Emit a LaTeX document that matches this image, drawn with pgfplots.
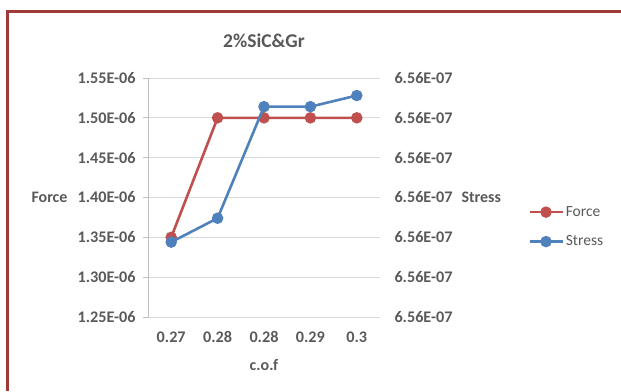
\documentclass[border=0pt]{standalone}
\usepackage{pgfplots}
\pgfplotsset{compat=1.18}
\usepackage{fontspec}
\setmainfont{Carlito}[Numbers=Lining]
\definecolor{frame}{HTML}{9E3A38}
\definecolor{txt}{HTML}{595959}
\definecolor{grd}{HTML}{D9D9D9}
\definecolor{axl}{HTML}{BFBFBF}
\definecolor{cred}{HTML}{C0504D}
\definecolor{cblue}{HTML}{4F81BD}
\begin{document}
\begin{tikzpicture}[x=1pt,y=1pt]
\useasboundingbox (0,0) rectangle (621,391);
\draw[frame, line width=3pt] (7.5,0) -- (7.5,379.5) -- (621,379.5);
\node[text=txt, font=\fontsize{19.5}{22}\selectfont\bfseries] at (264,350) {2\%SiC\&Gr};
\begin{axis}[
  at={(148pt,74pt)}, anchor=south west,
  width=232pt, height=239pt, scale only axis,
  xmin=-0.5, xmax=4.5,
  ymin=1.25e-6, ymax=1.55e-6,
  scaled y ticks=false,
  xtick={0,1,2,3,4},
  xticklabels={0.27,0.28,0.28,0.29,0.3},
  ytick={1.25e-6,1.30e-6,1.35e-6,1.40e-6,1.45e-6,1.50e-6,1.55e-6},
  yticklabels={1.25E-06,1.30E-06,1.35E-06,1.40E-06,1.45E-06,1.50E-06,1.55E-06},
  axis y line*=left, axis x line*=bottom,
  y axis line style={draw=axl, line width=0.8pt, -},
  x axis line style={draw=grd, line width=0.8pt, -},
  xtick style={draw=none},
  ytick style={draw=axl, line width=0.8pt},
  tick align=outside, major tick length=5pt,
  ymajorgrids, grid style={draw=grd, line width=0.8pt},
  ticklabel style={text=txt, font=\fontsize{16.2}{18}\selectfont\bfseries},
  yticklabel style={xshift=-4pt},
  xticklabel style={text height=11pt, text depth=0pt, yshift=-6pt},
  xlabel={c.o.f}, ylabel={Force},
  label style={text=txt, font=\fontsize{16}{18}\selectfont\bfseries},
  xlabel style={at={(axis description cs:0.5,0)}, anchor=center, yshift=-48pt},
  ylabel style={rotate=-90, anchor=east, at={(axis description cs:0,0.5)}, xshift=-77pt},
  clip=false,
]
\addplot[cred, line width=2.6pt, mark=*, mark size=4.4pt] coordinates {
(0,1.35e-6) (1,1.50e-6) (2,1.50e-6) (3,1.50e-6) (4,1.50e-6)};
\end{axis}
\begin{axis}[
  at={(148pt,74pt)}, anchor=south west,
  width=232pt, height=239pt, scale only axis,
  xmin=-0.5, xmax=4.5,
  ymin=1.25, ymax=1.55,
  axis x line=none,
  axis y line*=right,
  y axis line style={draw=none},
  ytick={1.25,1.30,1.35,1.40,1.45,1.50,1.55},
  yticklabels={6.56E-07,6.56E-07,6.56E-07,6.56E-07,6.56E-07,6.56E-07,6.56E-07},
  ytick style={draw=none},
  ticklabel style={text=txt, font=\fontsize{16.2}{18}\selectfont\bfseries},
  yticklabel style={xshift=11pt},
  ylabel={Stress},
  ylabel style={rotate=-90, anchor=west, at={(axis description cs:1,0.5)}, xshift=78pt, text=txt, font=\fontsize{16}{18}\selectfont\bfseries},
  legend style={at={(1.638,0.377)}, anchor=west, draw=none, fill=none,
    font=\fontsize{15.5}{17}\selectfont, text=txt, row sep=14pt,
    inner sep=0pt, cells={anchor=west}},
  legend image code/.code={
    \draw[#1, mark repeat=2, mark phase=2] plot coordinates {(0pt,0pt) (16.5pt,0pt) (33pt,0pt)};},
  clip=false,
]
\addlegendimage{cred, line width=2.6pt, mark=*, mark size=4.4pt}
\addlegendentry{Force}
\addplot[cblue, line width=2.6pt, mark=*, mark size=4.4pt] coordinates {
(0,1.344) (1,1.374) (2,1.514) (3,1.514) (4,1.528)};
\addlegendentry{Stress}
\end{axis}
\end{tikzpicture}
\end{document}
